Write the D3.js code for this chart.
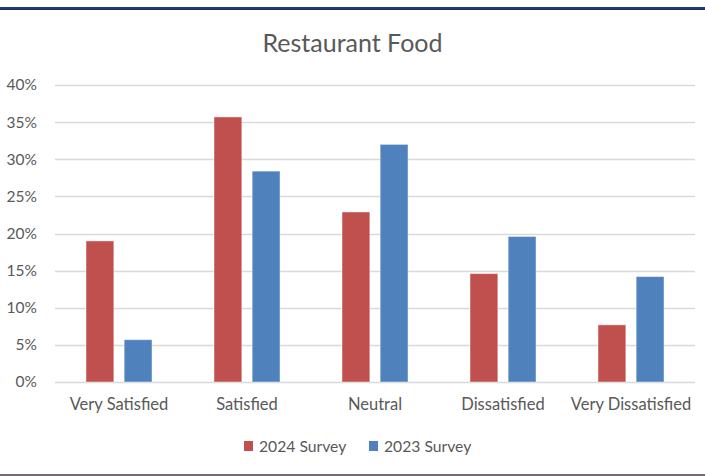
<!DOCTYPE html>
<html>
<head>
<meta charset="utf-8">
<script src="https://cdn.jsdelivr.net/npm/d3@7"></script>
<style>
  body { margin: 0; background: #fff; }
  svg text { font-family: Lato, "Open Sans", sans-serif; fill: #595959; }
</style>
</head>
<body>
<div id="chart"></div>
<script>
const categories = ["Very Satisfied", "Satisfied", "Neutral", "Dissatisfied", "Very Dissatisfied"];
const seriesNames = ["2024 Survey", "2023 Survey"];
const survey2024 = [0.19, 0.357, 0.229, 0.146, 0.077];
const survey2023 = [0.057, 0.284, 0.32, 0.196, 0.142];
const yTicks = [0, 0.05, 0.10, 0.15, 0.20, 0.25, 0.30, 0.35, 0.40];
const colors = ["#c0504d", "#4f81bd"];

const W = 705, H = 476;
const margin = { top: 85, right: 10, bottom: 94, left: 55 };

const svg = d3.select("#chart").append("svg")
  .attr("width", W)
  .attr("height", H);

// frame lines top and bottom
svg.append("line").attr("x1", 0).attr("x2", W).attr("y1", 8.5).attr("y2", 8.5)
  .attr("stroke", "#1f3c78").attr("stroke-width", 3);
svg.append("line").attr("x1", 0).attr("x2", W).attr("y1", 9.5).attr("y2", 9.5)
  .attr("stroke", "#17306a").attr("stroke-width", 1);
svg.append("line").attr("x1", 0).attr("x2", W).attr("y1", 475).attr("y2", 475)
  .attr("stroke", "#766a74").attr("stroke-width", 2);

const x = d3.scaleBand()
  .domain(categories)
  .range([margin.left, W - margin.right]);

const x1 = d3.scaleBand()
  .domain(seriesNames)
  .range([31, 97])
  .paddingInner(0.27);

const y = d3.scaleLinear()
  .domain([0, 0.4])
  .range([H - margin.bottom, margin.top]);

// gridlines
svg.append("g")
  .selectAll("line")
  .data(yTicks)
  .join("line")
  .attr("x1", margin.left)
  .attr("x2", W - margin.right)
  .attr("y1", d => Math.round(y(d)) + 0.5)
  .attr("y2", d => Math.round(y(d)) + 0.5)
  .attr("stroke", "#d9d9d9")
  .attr("stroke-width", 1.5);

// y tick labels
svg.append("g")
  .selectAll("text")
  .data(yTicks)
  .join("text")
  .attr("x", 37)
  .attr("y", d => y(d))
  .attr("dy", "0.35em")
  .attr("text-anchor", "end")
  .style("font-size", "15.5px")
  .text(d => d3.format(".0%")(d));

const rows = categories.map((c, i) => ({ cat: c, values: [survey2024[i], survey2023[i]] }));

const groups = svg.append("g")
  .selectAll("g")
  .data(rows)
  .join("g")
  .attr("transform", d => `translate(${x(d.cat)},0)`);

groups.selectAll("rect")
  .data(d => d.values.map((v, j) => ({ name: seriesNames[j], v, j })))
  .join("rect")
  .attr("x", d => x1(d.name))
  .attr("y", d => y(d.v))
  .attr("width", x1.bandwidth())
  .attr("height", d => y(0) - y(d.v))
  .attr("fill", d => colors[d.j])
  .attr("stroke", "#ffffff")
  .attr("stroke-opacity", 0.45)
  .attr("stroke-width", 1);

// category labels
svg.append("g")
  .selectAll("text")
  .data(categories)
  .join("text")
  .attr("x", d => x(d) + x.bandwidth() / 2)
  .attr("y", 410)
  .attr("text-anchor", "middle")
  .style("font-size", "16.5px")
  .text(d => d);

// title
svg.append("text")
  .attr("x", W / 2)
  .attr("y", 52)
  .attr("text-anchor", "middle")
  .style("font-size", "25px")
  .text("Restaurant Food");

// legend
const legendX = [244, 369];
const legend = svg.append("g")
  .selectAll("g")
  .data(seriesNames)
  .join("g")
  .attr("transform", (d, i) => `translate(${legendX[i]},441)`);

legend.append("rect")
  .attr("width", 9)
  .attr("height", 10)
  .attr("fill", (d, i) => colors[i]);

legend.append("text")
  .attr("x", 15)
  .attr("y", 10.5)
  .style("font-size", "15.7px")
  .text(d => d);
</script>
</body>
</html>
